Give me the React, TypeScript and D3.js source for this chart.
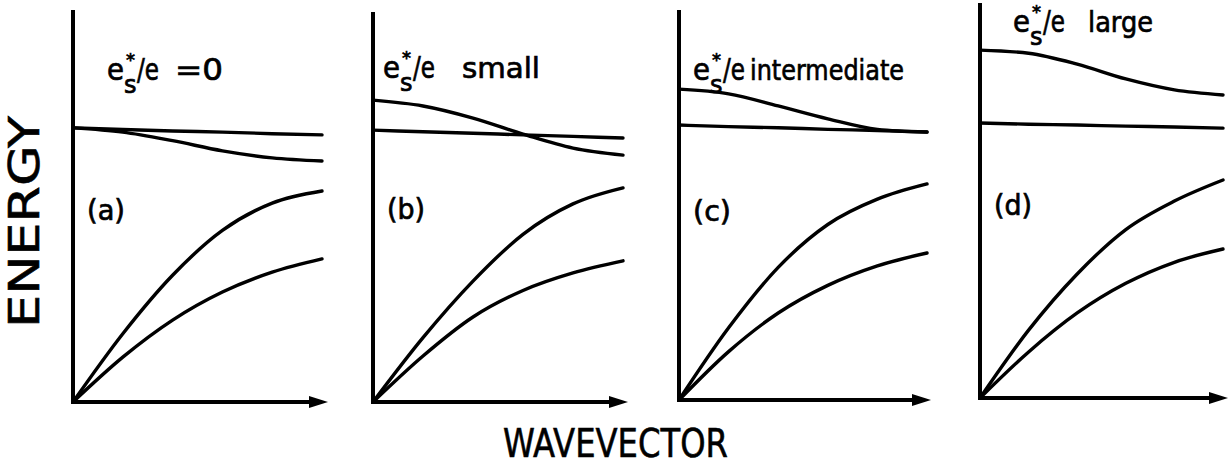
import React from "react";
import * as d3 from "d3";

// Reduced wavevector sample points (0 = zone centre, 1 = end of the drawn range)
const wavevector = [0, 0.2, 0.4, 0.6, 0.8, 1.0];

// Panel tags and the value of e*_s/e shown in each title
const panelTags = ["(a)", "(b)", "(c)", "(d)"];
const ratioWords = ["=0", "small", "intermediate", "large"];

// Energy (arbitrary units) of each branch per panel, at the wavevector points
const flatBand = [
  [70.3, 69.9, 69.5, 69.2, 68.8, 68.5],
  [69.7, 69.3, 68.9, 68.5, 68.1, 67.7],
  [70.5, 70.1, 69.8, 69.4, 69.1, 68.7],
  [70.5, 70.2, 70.0, 69.7, 69.5, 69.2],
];
const coupledBand = [
  [70.3, 69.2, 67.0, 64.4, 62.6, 61.8],
  [77.4, 75.9, 72.8, 68.7, 65.1, 63.3],
  [79.7, 78.5, 75.4, 72.1, 69.4, 68.7],
  [89.2, 88.4, 85.6, 81.8, 79.0, 77.7],
];
const upperAcoustic = [
  [0, 17.5, 32.5, 44.0, 51.0, 54.1],
  [0, 16.5, 31.0, 43.0, 50.8, 54.9],
  [0, 18.5, 34.0, 45.0, 51.5, 55.4],
  [0, 17.4, 31.8, 43.2, 50.5, 55.9],
];
const lowerAcoustic = [
  [0, 11.5, 21.0, 28.2, 33.3, 36.7],
  [0, 11.8, 21.8, 28.6, 33.1, 36.2],
  [0, 12.4, 22.3, 29.4, 34.4, 37.7],
  [0, 11.8, 21.8, 29.4, 34.8, 38.2],
];

// Frame geometry of the four small panels
const frames = [
  { x0: 73, x1: 322, tip: 328, base: 402, top: 10, eX: 107, eY: 80, wordX: 175, wordLen: 48, tagY: 220 },
  { x0: 373, x1: 623, tip: 628, base: 402, top: 12, eX: 383, eY: 78, wordX: 462, wordLen: 78, tagY: 219 },
  { x0: 679, x1: 927, tip: 931, base: 400, top: 10, eX: 693, eY: 80, wordX: 750, wordLen: 154, tagY: 221 },
  { x0: 980, x1: 1223, tip: 1228, base: 398, top: 3, eX: 1013, eY: 32, wordX: 1088, wordLen: 65, tagY: 215 },
];

const W = 1230;
const H = 467;
const FONT = "'DejaVu Sans', sans-serif";
const PX_PER_UNIT = 3.9;

function Panel({ i }: { i: number }) {
  const f = frames[i];
  const x = d3.scaleLinear().domain([0, 1]).range([f.x0, f.x1]);
  const y = d3.scaleLinear().domain([0, 100]).range([f.base, f.base - 100 * PX_PER_UNIT]);
  const line = d3
    .line<number>()
    .x((_, k) => x(wavevector[k]))
    .y((v) => y(v))
    .curve(d3.curveMonotoneX);

  const branches = [flatBand[i], coupledBand[i], upperAcoustic[i], lowerAcoustic[i]];
  const ax = x(0);
  const ay = y(0);

  return (
    <g>
      {branches.map((b, k) => (
        <path key={k} d={line(b) || ""} fill="none" stroke="#000" strokeWidth={3.4} strokeLinecap="round" />
      ))}
      {/* energy axis */}
      <line x1={ax} y1={f.top} x2={ax} y2={ay + 1.5} stroke="#000" strokeWidth={4} />
      {/* wavevector axis with arrow */}
      <line x1={ax - 2} y1={ay} x2={f.tip - 10} y2={ay} stroke="#000" strokeWidth={4} />
      <path d={`M${f.tip},${ay} L${f.tip - 19},${ay - 6} L${f.tip - 19},${ay + 6} Z`} fill="#000" />

      {/* title e*_s / e ... */}
      <g fontFamily={FONT} fill="#000" stroke="#000" strokeWidth={0.7}>
        <text x={f.eX} y={f.eY} fontSize={30} textLength={17} lengthAdjust="spacingAndGlyphs">e</text>
        <text x={f.eX + 17} y={f.eY + 13} fontSize={24}>s</text>
        <text x={f.eX + 19} y={f.eY - 14} fontSize={18}>*</text>
        <text x={f.eX + 30} y={f.eY} fontSize={30} textLength={22} lengthAdjust="spacingAndGlyphs">/e</text>
        <text x={f.wordX} y={f.eY} fontSize={i === 0 ? 30 : 28} textLength={f.wordLen} lengthAdjust="spacingAndGlyphs">
          {ratioWords[i]}
        </text>
        <text x={f.x0 + 14} y={f.tagY} fontSize={28} textLength={38} lengthAdjust="spacingAndGlyphs">
          {panelTags[i]}
        </text>
      </g>
    </g>
  );
}

export default function App() {
  return (
    <svg
      width={W}
      height={H}
      viewBox={`0 0 ${W} ${H}`}
      style={{ position: "absolute", left: 0, top: 0, background: "#fff" }}
    >
      <rect x={0} y={0} width={W} height={H} fill="#fff" />
      {frames.map((_, i) => (
        <Panel key={i} i={i} />
      ))}
      <text
        transform="translate(39,222) rotate(-90)"
        textAnchor="middle"
        fontFamily={FONT}
        fontSize={42}
        textLength={212}
        lengthAdjust="spacingAndGlyphs"
        fill="#000"
        stroke="#000"
        strokeWidth={0.6}
      >
        ENERGY
      </text>
      <text
        x={503}
        y={457}
        fontFamily={FONT}
        fontSize={39}
        textLength={225}
        lengthAdjust="spacingAndGlyphs"
        fill="#000"
        stroke="#000"
        strokeWidth={0.6}
      >
        WAVEVECTOR
      </text>
    </svg>
  );
}
